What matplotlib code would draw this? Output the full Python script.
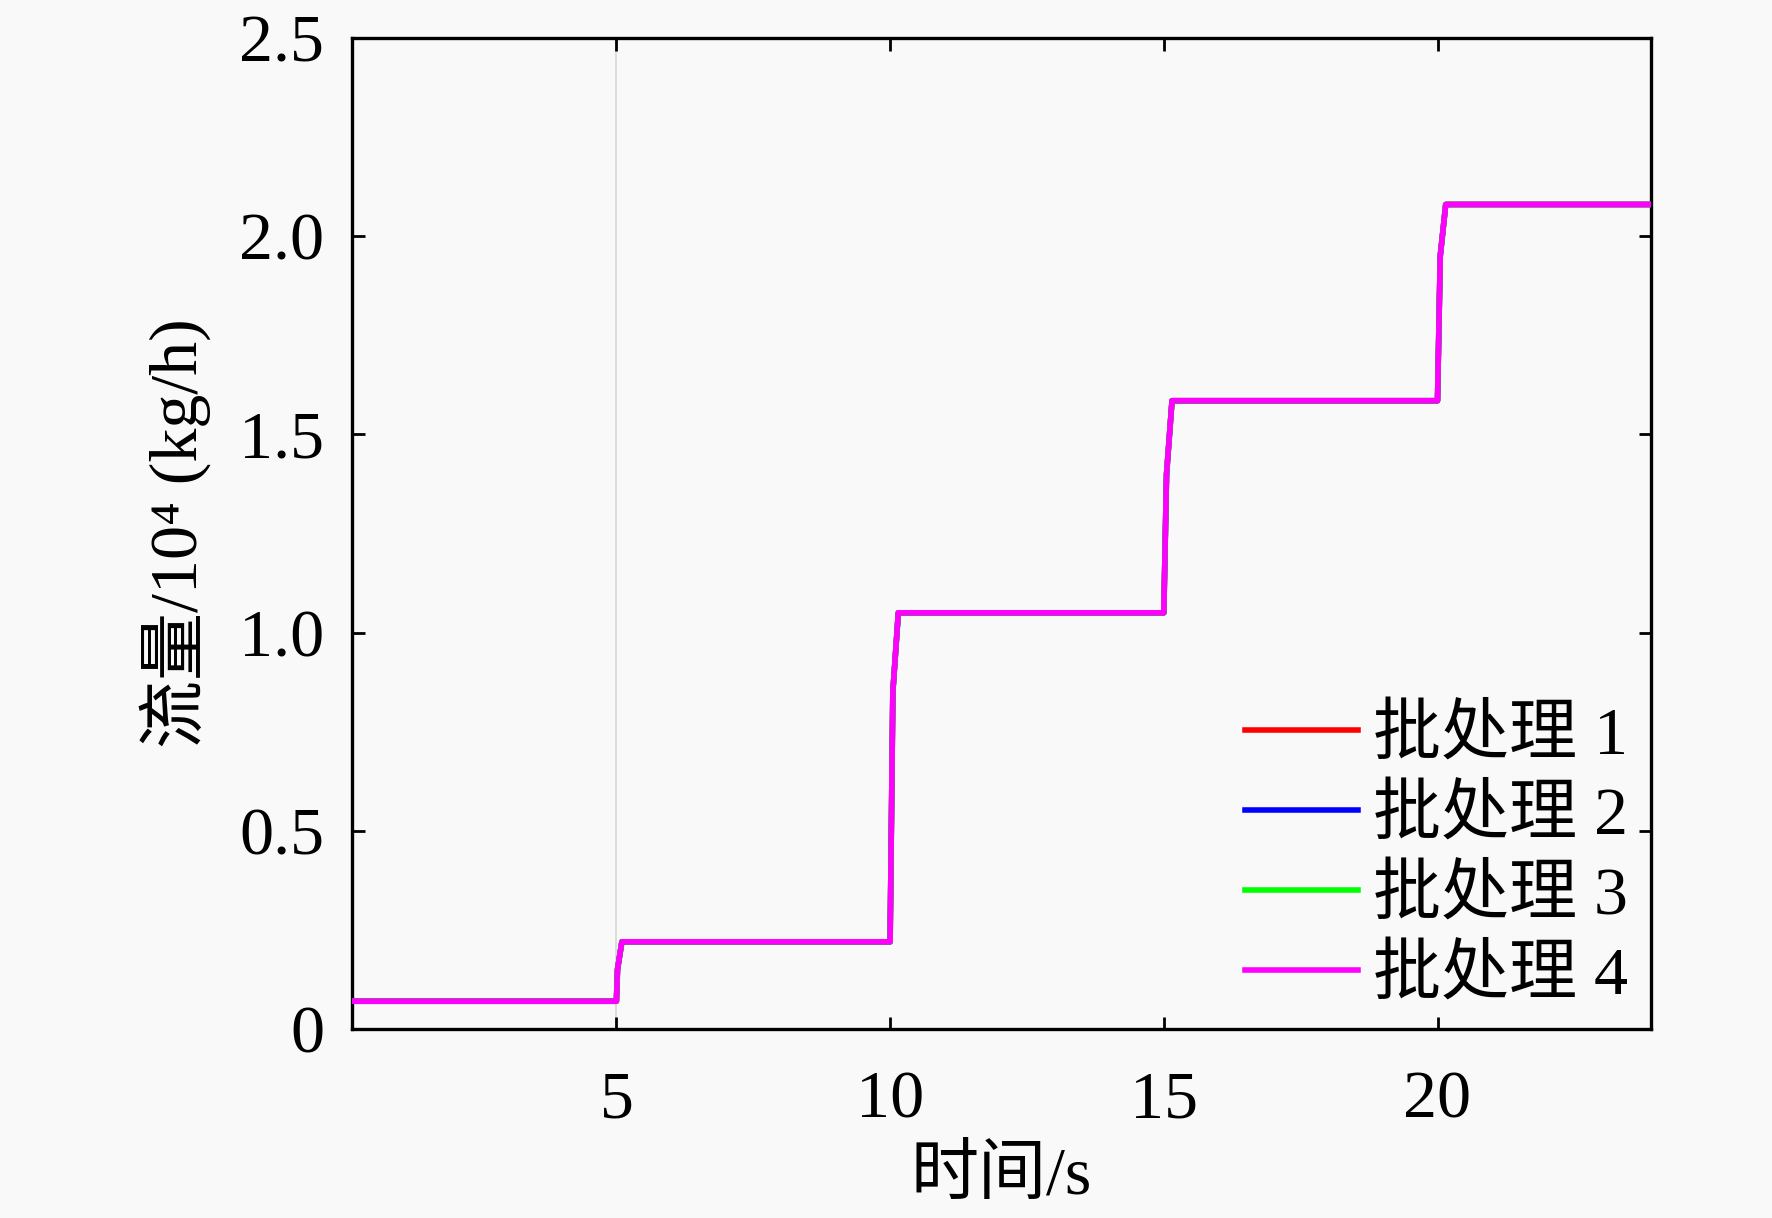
import matplotlib
matplotlib.use('Agg')
import matplotlib.pyplot as plt

plt.rcParams['font.family'] = ['Liberation Serif', 'Noto Sans CJK SC']

# data (time in s, flow in 10^4 kg/h)
t = [0.0, 5.0, 5.02, 5.1, 10.0, 10.05, 10.15, 15.0, 15.05, 15.15, 20.0, 20.05, 20.15, 24.0]
batch1 = [0.07, 0.07, 0.15, 0.22, 0.22, 0.85, 1.05, 1.05, 1.40, 1.585, 1.585, 1.95, 2.08, 2.08]
batch2 = [0.07, 0.07, 0.15, 0.22, 0.22, 0.85, 1.05, 1.05, 1.40, 1.585, 1.585, 1.95, 2.08, 2.08]
batch3 = [0.07, 0.07, 0.15, 0.22, 0.22, 0.85, 1.05, 1.05, 1.40, 1.585, 1.585, 1.95, 2.08, 2.08]
batch4 = [0.07, 0.07, 0.15, 0.22, 0.22, 0.85, 1.05, 1.05, 1.40, 1.585, 1.585, 1.95, 2.08, 2.08]

labels = ['批处理 1', '批处理 2', '批处理 3', '批处理 4']
colors = ['#ff0000', '#0000ff', '#00ff00', '#ff00ff']
xticks = [5, 10, 15, 20]
yticks = [0, 0.5, 1.0, 1.5, 2.0, 2.5]
yticklabels = ['0', '0.5', '1.0', '1.5', '2.0', '2.5']

fig = plt.figure(figsize=(17.72, 12.18), dpi=100, facecolor='#f9f9f9')
ax = fig.add_axes([352 / 1772, 1 - 1029 / 1218, (1651 - 352) / 1772, (1029 - 38) / 1218])
ax.set_facecolor('#f9f9f9')

ax.axvline(5, color='#d8d8d8', lw=1.2, zorder=1)

for y, lab, c in zip([batch1, batch2, batch3, batch4], labels, colors):
    ax.plot(t, y, color=c, lw=4, label=lab, zorder=3)

ax.set_xlim(0.17, 23.9)
ax.set_ylim(0, 2.5)
ax.set_xticks(xticks)
ax.set_yticks(yticks)
ax.set_yticklabels(yticklabels)
ax.tick_params(direction='in', length=9, width=2, labelsize=49,
               top=True, right=True)
ax.tick_params(axis='x', pad=30)
ax.tick_params(axis='y', pad=20)

for s in ax.spines.values():
    s.set_linewidth(2.4)

ax.set_xlabel('时间/s', fontsize=49, labelpad=10)
ax.set_ylabel('流量/10⁴ (kg/h)', fontsize=49, labelpad=20)

leg = ax.legend(loc='lower right', frameon=False, fontsize=49,
                handlelength=1.65, handletextpad=0.22, labelspacing=0.25,
                borderaxespad=0.0, bbox_to_anchor=(1.003, -0.006))
for h in leg.get_lines():
    h.set_linewidth(4)

fig.savefig('out.png', dpi=100, facecolor=fig.get_facecolor())
